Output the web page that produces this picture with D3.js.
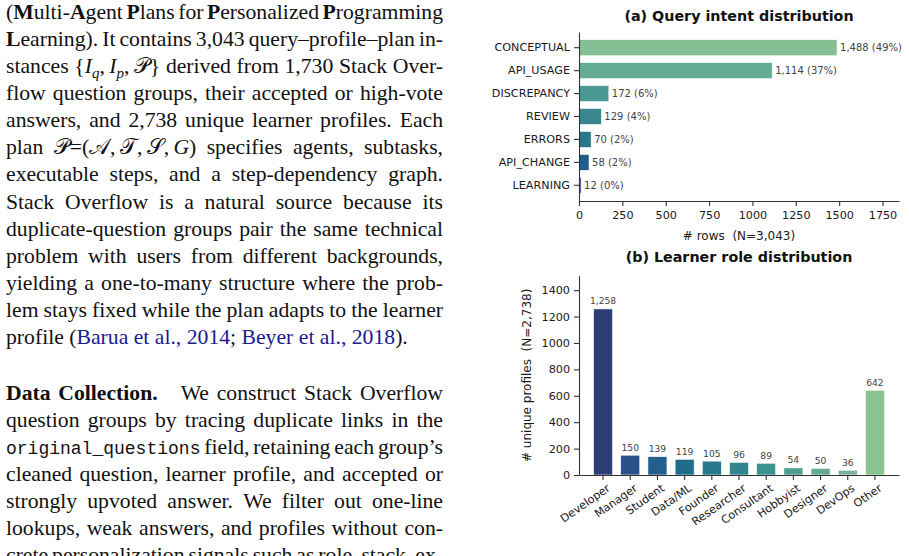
<!DOCTYPE html>
<html><head><meta charset="utf-8">
<script src="https://cdn.jsdelivr.net/npm/d3@7"></script>
<style>
body{margin:0;background:#fff;overflow:hidden}
svg{display:block}
</style>
</head><body>
<svg id="fig" width="909" height="556"></svg>
<script>
// ---------- DATA ----------
const intentCats = ["CONCEPTUAL","API_USAGE","DISCREPANCY","REVIEW","ERRORS","API_CHANGE","LEARNING"];
const intentCounts = [1488,1114,172,129,70,58,12];
const intentTicks = [0,250,500,750,1000,1250,1500,1750];

const roleCats = ["Developer","Manager","Student","Data/ML","Founder","Researcher","Consultant","Hobbyist","Designer","DevOps","Other"];
const roleCounts = [1258,150,139,119,105,96,89,54,50,36,642];
const roleTicks = [0,200,400,600,800,1000,1200,1400];

const titleA = "(a) Query intent distribution";
const titleB = "(b) Learner role distribution";
const xLabelA = "# rows  (N=3,043)";
const yLabelB = "# unique profiles  (N=2,738)";

// colours (crest-like palette)
const intentColors = ["#84c094","#64ac95","#4a9994","#3a868f","#29778d","#215d8b","#2c4279"];
const roleColors = ["#2c3e75","#2a5189","#235f8a","#1f6c8b","#26788c","#31858e","#3d918f","#4f9e92","#63a993","#76b593","#8cc391"];

// paper text (left column); [b] bold, [i] italic, [sub] subscript, [m] mono, [c] citation, [/] end
const para1 = [
 "([b]M[/]ulti-[b]A[/]gent [b]P[/]lans for [b]P[/]ersonalized [b]P[/]rogramming",
 "[b]L[/]earning). It contains 3,043 query–profile–plan in-",
 "stances {[i]I[/][sub]q[/],\u2009[i]I[/][sub]p[/],\u2009𝒫} derived from 1,730 Stack Over-",
 "flow question groups, their accepted or high-vote",
 "answers, and 2,738 unique learner profiles. Each",
 "plan 𝒫=(𝒜,\u2009𝒯,\u2009𝒮,\u2009[i]G[/]) specifies agents, subtasks,",
 "executable steps, and a step-dependency graph.",
 "Stack Overflow is a natural source because its",
 "duplicate-question groups pair the same technical",
 "problem with users from different backgrounds,",
 "yielding a one-to-many structure where the prob-",
 "lem stays fixed while the plan adapts to the learner",
 "profile ([c]Barua et al., 2014[/]; [c]Beyer et al., 2018[/])."
];
const para2 = [
 "[b]Data Collection.\u2002\u2009[/] We construct Stack Overflow",
 "question groups by tracing duplicate links in the",
 "[m]original_questions[/] field, retaining each group’s",
 "cleaned question, learner profile, and accepted or",
 "strongly upvoted answer. We filter out one-line",
 "lookups, weak answers, and profiles without con-",
 "crete personalization signals such as role, stack, ex-"
];

// ---------- LEFT TEXT ----------
const svg = d3.select("#fig");
const TX = 6, TW = 437, FS = 21.7, LH = 27.08;
const styleAttrs = {
  n:{}, b:{"font-weight":"bold"}, i:{"font-style":"italic"},
  sub:{"font-style":"italic","font-size":"15px", shift:5},
  m:{"font-family":"'Liberation Mono', 'DejaVu Sans Mono', monospace","font-size":"18px"},
  c:{fill:"#1a1a8f"}
};
function parseLine(s){
  const segs=[]; let style="n";
  s.split(/(\[\w*\]|\[\/\])/).forEach(tok=>{
    if(!tok) return;
    const m = tok.match(/^\[(\/|\w+)\]$/);
    if(m){ style = m[1]==="/" ? "n" : m[1]; return; }
    segs.push({text:tok, style});
  });
  const words=[[]];
  segs.forEach(seg=>{
    seg.text.split(" ").forEach((p,k)=>{
      if(k>0) words.push([]);
      if(p) words[words.length-1].push({text:p, style:seg.style});
    });
  });
  return words.filter(w=>w.length);
}
const tg = svg.append("g").attr("font-family","'Liberation Serif', 'Times New Roman', serif")
  .attr("font-size",FS).attr("fill","#111");
function drawLine(s, y, justify){
  const words = parseLine(s);
  const nodes = words.map(word=>{
    const t = tg.append("text").attr("x",0).attr("y",y);
    let cur=0;
    word.forEach(seg=>{
      const st = styleAttrs[seg.style]; const sh = st.shift||0;
      const ts = t.append("tspan").text(seg.text);
      if(sh-cur!==0) ts.attr("dy", sh-cur);
      cur = sh;
      for(const k in st) if(k!=="shift") ts.attr(k, st[k]);
    });
    return t;
  });
  const widths = nodes.map(t=>t.node().getComputedTextLength());
  const total = d3.sum(widths);
  const gap = (justify && nodes.length>1) ? (TW-total)/(nodes.length-1) : FS*0.25;
  let x = TX;
  nodes.forEach((t,i)=>{ t.attr("x",x); x += widths[i]+gap; });
}
para1.forEach((s,i)=>drawLine(s, 19 + i*LH, i!==para1.length-1));
para2.forEach((s,i)=>drawLine(s, 400 + i*LH, true));

// ---------- CHART A ----------
const fmt = d3.format(",");
const axisColor = "#333", tickText = "#1a1a1a", annColor = "#444";
const TICK_FS = 11.2, LABEL_FS = 12;
const AX0 = 579, AX1 = 899, AY0 = 32, AY1 = 201;
const totalA = d3.sum(intentCounts);
const xA = d3.scaleLinear().domain([0, d3.max(intentCounts)*1.24]).range([AX0, AX1]);
const yA = d3.scaleBand().domain(intentCats).range([AY0, AY1]).paddingInner(0.3).paddingOuter(0.335);
const gA = svg.append("g").attr("font-family","'DejaVu Sans', sans-serif");

gA.selectAll("rect.bar").data(intentCats).join("rect")
  .attr("x", xA(0)).attr("y", d=>yA(d))
  .attr("width", (d,i)=>xA(intentCounts[i])-xA(0)).attr("height", yA.bandwidth())
  .attr("fill", (d,i)=>intentColors[i]).attr("stroke","#fff").attr("stroke-width",0.6);

gA.selectAll("text.ann").data(intentCats).join("text")
  .attr("x",(d,i)=>xA(intentCounts[i])+3).attr("y",d=>yA(d)+yA.bandwidth()/2)
  .attr("dominant-baseline","central").attr("font-size",10).attr("fill",annColor)
  .text((d,i)=>`${fmt(intentCounts[i])} (${Math.round(intentCounts[i]/totalA*100)}%)`);

const axA_left = gA.append("g").attr("transform",`translate(${AX0},0)`)
  .call(d3.axisLeft(yA).tickSize(5).tickSizeOuter(0).tickPadding(4));
const axA_bot = gA.append("g").attr("transform",`translate(0,${AY1})`)
  .call(d3.axisBottom(xA).tickValues(intentTicks).tickFormat(d3.format("d")).tickSize(5).tickSizeOuter(0).tickPadding(5));
[axA_left, axA_bot].forEach(a=>{
  a.attr("font-family","'DejaVu Sans', sans-serif").attr("font-size",TICK_FS);
  a.selectAll("line,path").attr("stroke",axisColor).attr("stroke-width",1.1);
  a.selectAll("text").attr("fill",tickText);
});
gA.append("text").attr("x",(AX0+AX1)/2).attr("y",20.5).attr("text-anchor","middle")
  .attr("font-weight","bold").attr("font-size",14.3).attr("fill","#111").text(titleA);
gA.append("text").attr("x",(AX0+AX1)/2).attr("y",240).attr("text-anchor","middle")
  .attr("font-size",LABEL_FS).attr("fill",tickText).style("white-space","pre").text(xLabelA);

// ---------- CHART B ----------
const BX0 = 579, BX1 = 899, BY0 = 475, BY1 = 275.7;
const xB = d3.scaleBand().domain(roleCats).range([BX0, BX1]).paddingInner(0.3).paddingOuter(0.535);
const yB = d3.scaleLinear().domain([0, d3.max(roleCounts)*1.2]).range([BY0, BY1]);
const gB = svg.append("g").attr("font-family","'DejaVu Sans', sans-serif");

gB.selectAll("rect.bar").data(roleCats).join("rect")
  .attr("x", d=>xB(d)).attr("y",(d,i)=>yB(roleCounts[i]))
  .attr("width", xB.bandwidth()).attr("height",(d,i)=>yB(0)-yB(roleCounts[i]))
  .attr("fill",(d,i)=>roleColors[i]).attr("stroke","#fff").attr("stroke-width",0.6);

gB.selectAll("text.ann").data(roleCats).join("text")
  .attr("x",d=>xB(d)+xB.bandwidth()/2).attr("y",(d,i)=>yB(roleCounts[i])-4.5)
  .attr("text-anchor","middle").attr("font-size",9.2).attr("fill",annColor)
  .text((d,i)=>fmt(roleCounts[i]));

const axB_left = gB.append("g").attr("transform",`translate(${BX0},0)`)
  .call(d3.axisLeft(yB).tickValues(roleTicks).tickFormat(d3.format("d")).tickSize(5).tickSizeOuter(0).tickPadding(4));
const axB_bot = gB.append("g").attr("transform",`translate(0,${BY0})`)
  .call(d3.axisBottom(xB).tickSize(5).tickSizeOuter(0));
[axB_left, axB_bot].forEach(a=>{
  a.attr("font-family","'DejaVu Sans', sans-serif").attr("font-size",TICK_FS);
  a.selectAll("line,path").attr("stroke",axisColor).attr("stroke-width",1.1);
  a.selectAll("text").attr("fill",tickText);
});
axB_bot.selectAll(".tick text")
  .attr("x",0).attr("y",0).attr("dy","0.75em").attr("text-anchor","end")
  .attr("transform","translate(3,8) rotate(-35)");
gB.append("text").attr("transform",`translate(527,${(BY0+BY1)/2}) rotate(-90)`)
  .attr("text-anchor","middle").attr("dominant-baseline","central")
  .attr("font-size",LABEL_FS).attr("fill",tickText).style("white-space","pre").text(yLabelB);
gB.append("text").attr("x",(BX0+BX1)/2).attr("y",261.5).attr("text-anchor","middle")
  .attr("font-weight","bold").attr("font-size",14.3).attr("fill","#111").text(titleB);
</script>
</body></html>
